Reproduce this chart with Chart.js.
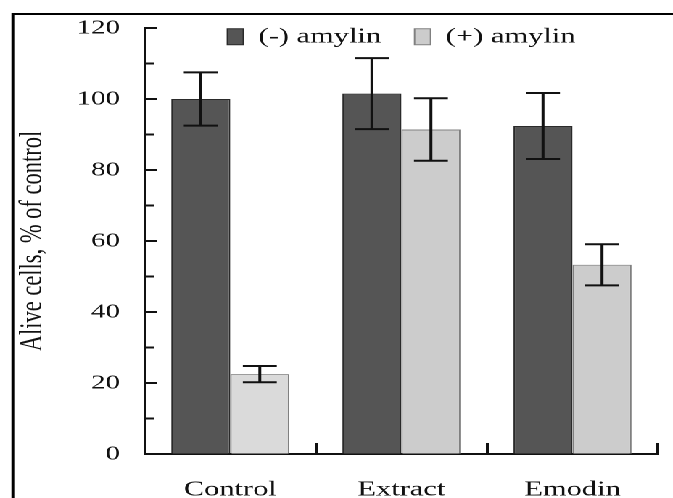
<!DOCTYPE html>
<html>
<head>
<meta charset="utf-8">
<script src="https://cdn.jsdelivr.net/npm/chart.js@4.4.1/dist/chart.umd.min.js"></script>
<style>
    html, body { margin: 0; padding: 0; width: 673px; height: 498px; overflow: hidden; background: #fff; }
    /* the original figure is stretched sideways, so the whole chart is drawn narrow and widened */
    #wrap { position: absolute; left: 0; top: 0; width: 464px; height: 510px; transform-origin: 0 0; transform: scaleX(1.4504); }
    #frame { position: absolute; left: 7.6px; top: 13px; width: 1000px; height: 1000px; border: 2px solid #000; box-sizing: border-box; }
    #chart { position: absolute; left: 0; top: 0; }
</style>
</head>
<body>
<div id="wrap">
    <div id="frame"></div>
    <canvas id="chart" width="464" height="510"></canvas>
</div>
<script>
'use strict'

var categories = ['Control', 'Extract', 'Emodin'];
var seriesNames = ['(-) amylin', '(+) amylin'];
var minusAmylin = [100, 101.5, 92.4];
var minusAmylinErr = [7.5, 10, 9.3];
var plusAmylin = [22.5, 91.4, 53.3];
var plusAmylinErr = [2.3, 8.8, 5.8];
var yMin = 0, yMax = 120, yStep = 10, yLabelStep = 20;
var yTitle = 'Alive cells, % of control';

var legendFill = ['#555555', '#cccccc'];
var textColor = '#111';
var serif = 'Liberation Serif';

var errorBarPlugin = {
    id: 'errorBars',
    afterDatasetsDraw: function (chart) {
        var ctx = chart.ctx;
        var yScale = chart.scales.y;
        var half = 11.7;
        ctx.save();
        ctx.strokeStyle = '#111';
        ctx.lineWidth = 2;
        chart.data.datasets.forEach(function (ds, i) {
            var meta = chart.getDatasetMeta(i);
            meta.data.forEach(function (bar, j) {
                var hi = yScale.getPixelForValue(ds.data[j] + ds.errors[j]);
                var lo = yScale.getPixelForValue(ds.data[j] - ds.errors[j]);
                ctx.beginPath();
                ctx.moveTo(bar.x, hi);
                ctx.lineTo(bar.x, lo);
                ctx.moveTo(bar.x - half, hi);
                ctx.lineTo(bar.x + half, hi);
                ctx.moveTo(bar.x - half, lo);
                ctx.lineTo(bar.x + half, lo);
                ctx.stroke();
            });
        });
        ctx.restore();
    }
};

// legend sits over the top of the plot, so it gets a small box and is moved/unclipped after layout
var legendShift = 2.5;
var legendMove = {
    id: 'legendMove',
    afterLayout: function (chart) {
        var lg = chart.legend;
        lg.top += legendShift;
        lg.height = 45;
        lg.bottom = lg.top + lg.height;
    }
};

var chartConfig = {
    type: 'bar',
    data: {
        labels: categories,
        datasets: [{
            label: seriesNames[0],
            data: minusAmylin,
            errors: minusAmylinErr,
            backgroundColor: '#555555',
            borderColor: '#2a2a2a',
            borderWidth: 1,
        }, {
            label: seriesNames[1],
            data: plusAmylin,
            errors: plusAmylinErr,
            backgroundColor: ['#dadada', '#cccccc', '#cccccc'],
            borderColor: '#808080',
            borderWidth: 1,
        }]
    },
    options: {
        responsive: false,
        devicePixelRatio: 2,
        animation: false,
        categoryPercentage: 0.69,
        barPercentage: 1,
        layout: {
            padding: { left: 0, right: 0.9, top: 0.75, bottom: 0 }
        },
        plugins: {
            tooltip: { enabled: false },
            legend: {
                position: 'top',
                fullSize: false,
                align: 'center',
                maxHeight: 27.25,
                labels: {
                    boxWidth: 11,
                    boxHeight: 16,
                    padding: 23,
                    color: textColor,
                    font: { family: serif, size: 21 },
                    generateLabels: function (chart) {
                        var items = Chart.defaults.plugins.legend.labels.generateLabels(chart);
                        items.forEach(function (it, i) {
                            it.fillStyle = legendFill[i];
                        });
                        return items;
                    }
                }
            }
        },
        scales: {
            x: {
                grid: {
                    display: true,
                    offset: true,
                    drawOnChartArea: false,
                    drawTicks: true,
                    tickLength: -11,
                    tickWidth: 2,
                    tickColor: '#111',
                },
                border: { display: true, color: '#111', width: 2 },
                ticks: {
                    color: textColor,
                    font: { family: serif, size: 21 },
                    padding: 34.3,
                    maxRotation: 0,
                },
                afterFit: function (scale) {
                    scale.height = 56;
                }
            },
            y: {
                min: yMin,
                max: yMax,
                grid: {
                    display: true,
                    drawOnChartArea: false,
                    drawTicks: true,
                    tickLength: -8.7,
                    tickWidth: 2,
                    tickColor: '#111',
                    tickBorderDash: function (c) {
                        return c.tick && c.tick.value % yLabelStep ? [0, 2.3, 7.4, 50] : [];
                    },
                },
                border: { display: true, color: '#111', width: 2 },
                ticks: {
                    stepSize: yStep,
                    autoSkip: false,
                    color: textColor,
                    font: { family: serif, size: 20 },
                    padding: 25.8,
                    callback: function (v) {
                        return v % yLabelStep === 0 ? v : '';
                    }
                },
                title: {
                    display: true,
                    text: yTitle,
                    color: textColor,
                    font: { family: serif, size: 22.5 },
                    padding: { top: 9.2, bottom: 0 }
                },
                afterFit: function (scale) {
                    scale.width = 99.8;
                    scale.paddingTop = 0;
                }
            }
        }
    },
    plugins: [errorBarPlugin, legendMove]
};

var chartObj = new Chart(document.getElementById('chart'), chartConfig);
</script>
</body>
</html>
